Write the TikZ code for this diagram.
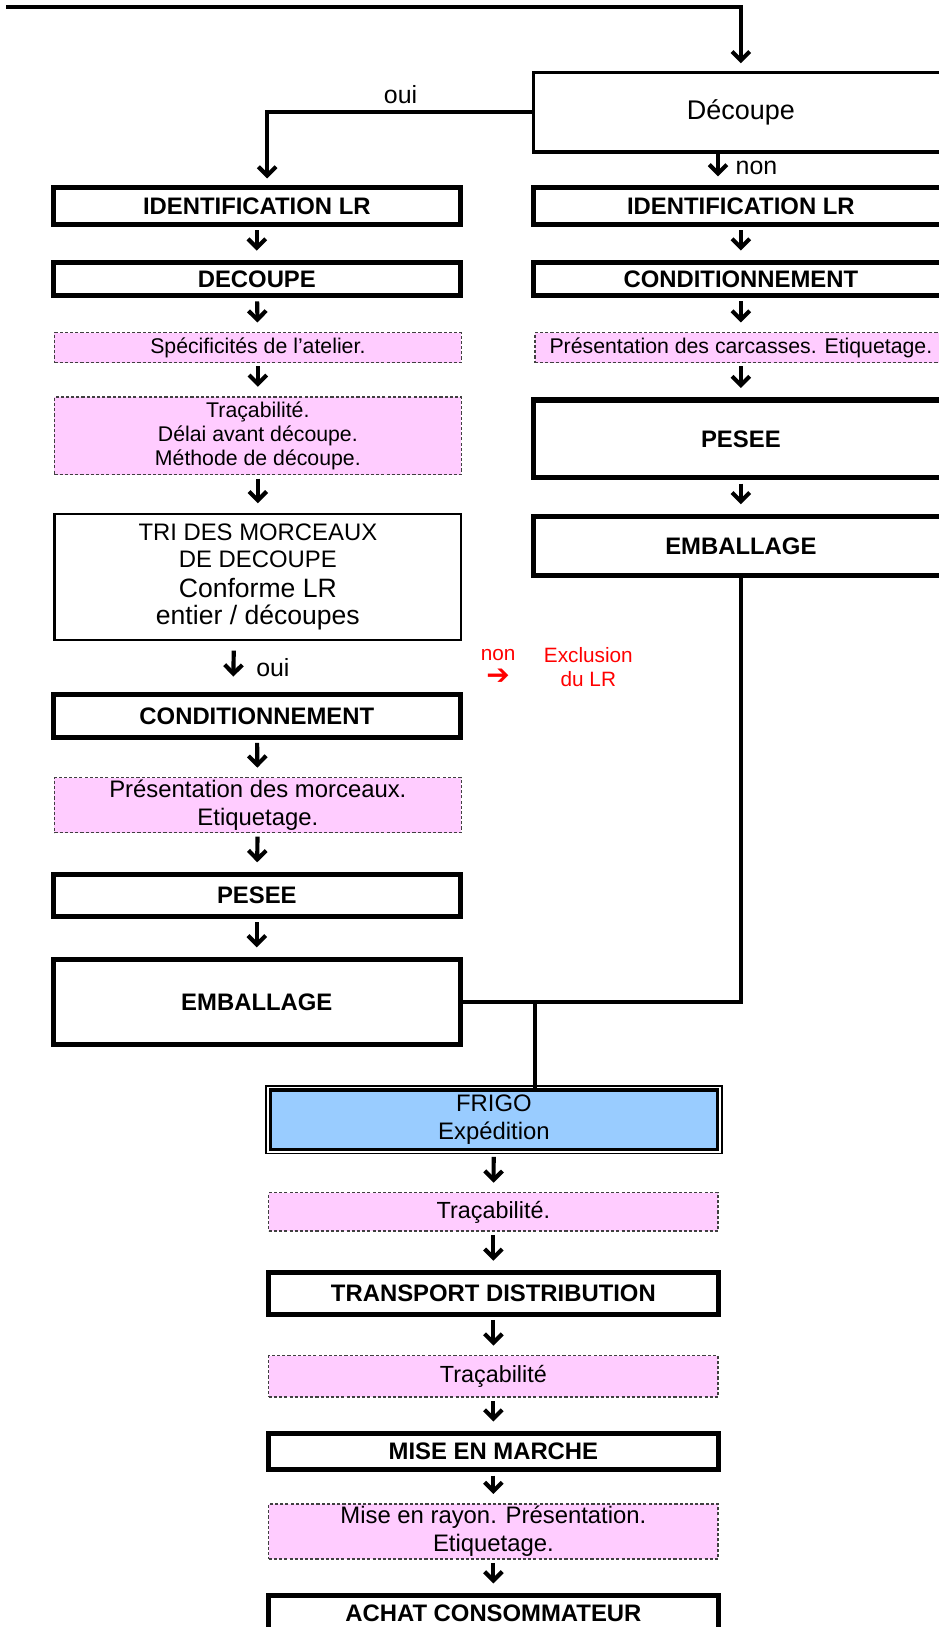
\documentclass[tikz,border=0pt]{standalone}
\usepackage{fontspec}
\setmainfont{Liberation Sans}
\newfontfamily\symbfont{DejaVu Sans}
\usetikzlibrary{arrows.meta}
\usetikzlibrary{positioning}
\usepackage{xcolor}
\definecolor{notepink}{HTML}{FFCCFF}
\definecolor{frigoblue}{HTML}{99CCFF}

\tikzset{
  bigbox/.style={draw, line width=5pt, fill=white, inner sep=0pt, align=center,
    font=\bfseries\fontsize{23}{26}\selectfont},
  notebox/.style={draw=black!75, dash pattern=on 3pt off 2pt, line width=1.4pt,
    fill=notepink, inner sep=0pt, align=center, font=\fontsize{20.5}{23.2}\selectfont},
  thinbox/.style={draw, line width=2pt, fill=white, inner sep=0pt, align=center},
  conn/.style={line width=4pt},
  arrtip/.style={-{Straight Barb[length=8.5pt,width=17pt,line width=4pt]}},
  arr/.style={line width=4pt, arrtip, shorten <=3pt, shorten >=9pt},
  lbl/.style={font=\fontsize{24}{28}\selectfont},
  excl/.style={text=red, align=center, font=\fontsize{20}{23}\selectfont},
}

\begin{document}
\begin{tikzpicture}[x=1pt,y=-1pt]
\useasboundingbox (0,0) rectangle (904,1568);

% colonne droite
\node[thinbox, line width=3pt, minimum width=399pt, minimum height=77pt,
  font=\fontsize{26}{30}\selectfont] (decq) at (714,108) {Découpe};
\node[bigbox, minimum width=399pt, minimum height=36pt] (idR) at (714,198.5) {IDENTIFICATION LR};
\node[bigbox, minimum width=399pt, minimum height=32pt] (condR) at (714,269) {CONDITIONNEMENT};
\node[notebox, minimum width=397pt, minimum height=29pt] (presR) at (714,335) {Présentation des carcasses. Etiquetage.};
\node[bigbox, minimum width=399pt, minimum height=75pt] (peseeR) at (714,423) {PESEE};
\node[bigbox, minimum width=399pt, minimum height=57pt] (embR) at (714,526) {EMBALLAGE};

% colonne gauche
\node[bigbox, minimum width=392pt, minimum height=36pt] (idL) at (247.5,198.5) {IDENTIFICATION LR};
\node[bigbox, minimum width=392pt, minimum height=32pt] (decL) at (247.5,269) {DECOUPE};
\node[notebox, minimum width=392pt, minimum height=29pt] (specL) at (248.5,335) {Spécificités de l'atelier.};
\node[notebox, minimum width=392pt, minimum height=75pt] (tracL) at (248.5,420) {Traçabilité.\\Délai avant découpe.\\Méthode de découpe.};
\node[thinbox, minimum width=392pt, minimum height=122pt, font=\fontsize{23}{26}\selectfont] (triL) at (248.5,556)
  {TRI DES MORCEAUX\\DE DECOUPE\\[3pt]{\fontsize{25.6}{30.5}\selectfont Conforme LR}\\{\fontsize{25.6}{30.5}\selectfont entier / découpes}};
\node[bigbox, minimum width=392pt, minimum height=41pt] (condL) at (247.5,690) {CONDITIONNEMENT};
\node[notebox, minimum width=392pt, minimum height=53pt, font=\fontsize{23}{26.5}\selectfont] (presL) at (248.5,776) {Présentation des morceaux.\\Etiquetage.};
\node[bigbox, minimum width=392pt, minimum height=41pt] (peseeL) at (247.5,863) {PESEE};
\node[bigbox, minimum width=392pt, minimum height=82pt] (embL) at (247.5,965.5) {EMBALLAGE};

% colonne du bas
\node[draw, line width=3pt, fill=frigoblue, minimum width=431pt, minimum height=57pt, inner sep=0pt,
  align=center, font=\fontsize{23}{27}\selectfont] (frigo) at (476,1079) {FRIGO\\Expédition};
\draw[line width=1.4pt] ([shift={(-2.6pt,2.6pt)}]frigo.north west) rectangle ([shift={(2.6pt,-2.6pt)}]frigo.south east);
\node[notebox, minimum width=433pt, minimum height=37pt, font=\fontsize{22.5}{26}\selectfont] (trac2) at (475.5,1168) {Traçabilité.};
\node[bigbox, minimum width=434pt, minimum height=40pt] (transp) at (475.5,1246.5) {TRANSPORT DISTRIBUTION};
\node[notebox, minimum width=433pt, minimum height=40pt, font=\fontsize{22.5}{26}\selectfont] (trac3) at (475.5,1326.5) {Traçabilité};
\node[bigbox, minimum width=434pt, minimum height=35pt] (mise) at (475.5,1399) {MISE EN MARCHE};
\node[notebox, minimum width=433pt, minimum height=53pt, font=\fontsize{23}{27}\selectfont] (rayon) at (475.5,1476) {Mise en rayon. Présentation.\\Etiquetage.};
\node[bigbox, minimum width=434pt, minimum height=35pt] (achat) at (475.5,1555) {ACHAT CONSOMMATEUR};

% liaisons
\coordinate (entree) at (6,7);
\draw[conn, arrtip, shorten >=7pt] (entree) -| (decq.north);
\draw[conn, arrtip, shorten >=6pt] (decq.west) -| ([xshift=10pt]idL.north);
\node[lbl] (ouiT) at (386,91) {oui};
\draw[arr, shorten <=0pt, shorten >=8pt] ([xshift=-22pt]decq.south) -- ([xshift=-22pt]idR.north);
\node[lbl] (nonT) at (729,162) {non};

\draw[arr] (idR) -- (condR);
\draw[arr] (condR) -- (presR);
\draw[arr] (presR) -- (peseeR);
\draw[arr] (peseeR) -- (embR);

\draw[arr] (idL) -- (decL);
\draw[arr] (decL) -- (specL);
\draw[arr] (specL) -- (tracL);
\draw[arr] (tracL) -- (triL);
\draw[arr, shorten <=9pt, shorten >=15pt] ([xshift=-23pt]triL.south) -- ([xshift=-23pt]condL.north);
\node[lbl] (ouiB) at (263,643) {oui};
\node[excl] (nonR) at (480,643) {non\\{\symbfont\fontsize{27}{23}\selectfont ➔}};
\node[excl] (exclR) at (567,643) {Exclusion\\du LR};
\draw[arr] (condL) -- (presL);
\draw[arr] (presL) -- (peseeL);
\draw[arr] (peseeL) -- (embL);

\draw[conn] (embR.south) |- (embL.east);
\coordinate (jonction) at ([xshift=70pt]embL.east);
\draw[conn] (jonction) -- (jonction |- frigo.north);

\draw[arr, shorten <=6pt] (frigo) -- (trac2);
\draw[arr] (trac2) -- (transp);
\draw[arr] (transp) -- (trac3);
\draw[arr] (trac3) -- (mise);
\draw[arr] (mise) -- (rayon);
\draw[arr] (rayon) -- (achat);
\end{tikzpicture}
\end{document}
